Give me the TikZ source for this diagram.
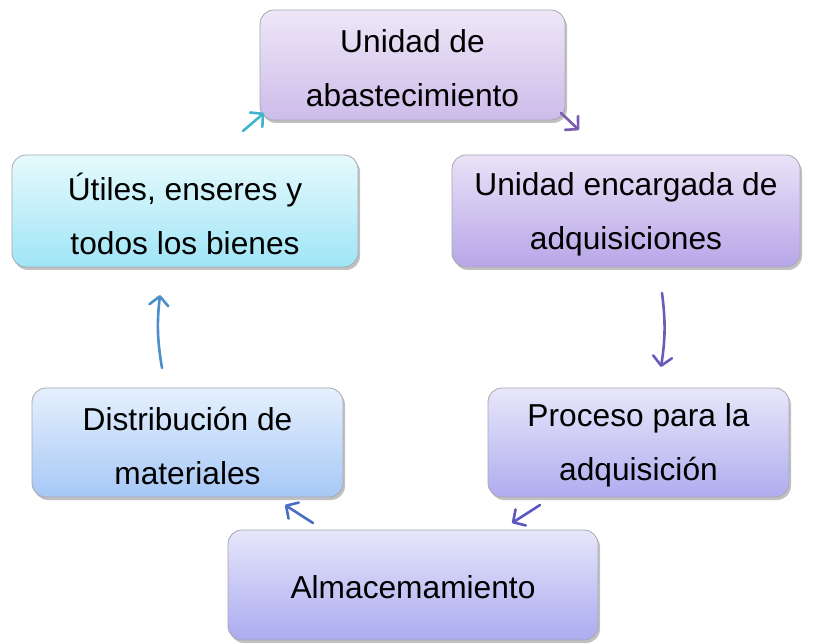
\documentclass[tikz,border=0pt]{standalone}
\usepackage{fontspec}
\setmainfont{Liberation Sans}
\usetikzlibrary{arrows.meta,shadows}
\definecolor{bordgray}{HTML}{A8A8B0}
\definecolor{topA}{HTML}{EEE7F7}\definecolor{topB}{HTML}{CDBCEA}
\definecolor{utA}{HTML}{E6FAFD}\definecolor{utB}{HTML}{9FE5F6}
\definecolor{encA}{HTML}{E9E2F7}\definecolor{encB}{HTML}{B7A6E8}
\definecolor{disA}{HTML}{E6F0FD}\definecolor{disB}{HTML}{A6C8F6}
\definecolor{proA}{HTML}{E8E7FA}\definecolor{proB}{HTML}{B0ACF0}
\definecolor{almA}{HTML}{E6E6FA}\definecolor{almB}{HTML}{ABABF1}
\definecolor{arCyan}{HTML}{40B4CC}
\definecolor{arPurA}{HTML}{7A5CB0}
\definecolor{arPurB}{HTML}{6B5CB8}
\definecolor{arIndA}{HTML}{5B58C2}
\definecolor{arBluA}{HTML}{4B6CC6}
\definecolor{arBluB}{HTML}{4C8FCB}
\tikzset{
  box/.style={draw=bordgray, line width=0.8pt, rounded corners=14pt,
    inner sep=0pt,
    drop shadow={shadow xshift=2pt, shadow yshift=-3pt, opacity=0.35, fill=black!70}},
  txt/.style={align=center, inner sep=0pt, font=\fontsize{31.7}{54}\selectfont},
  flow/.style={line width=2.6pt, line cap=round,
    -{Straight Barb[length=9pt,width=19pt,line width=2.6pt,round]}}
}
\begin{document}
\begin{tikzpicture}[x=1pt,y=-1pt]
\useasboundingbox (0,0) rectangle (817,644);
\node[box, top color=topA, bottom color=topB, minimum width=305pt, minimum height=110pt] (top) at (412.5,65) {};
\node[box, top color=utA, bottom color=utB, minimum width=346pt, minimum height=112pt] (uti) at (185,211) {};
\node[box, top color=encA, bottom color=encB, minimum width=348pt, minimum height=112pt] (enc) at (626,211) {};
\node[box, top color=disA, bottom color=disB, minimum width=311pt, minimum height=109pt] (dis) at (187.5,442.5) {};
\node[box, top color=proA, bottom color=proB, minimum width=301pt, minimum height=109pt] (pro) at (638.5,442.5) {};
\node[box, top color=almA, bottom color=almB, minimum width=370pt, minimum height=110pt] (alm) at (413,585) {};

\node[txt] (ttop) at ([yshift=-3pt]top.center) {Unidad de\\abastecimiento};
\node[txt] (tuti) at ([yshift=-3pt]uti.center) {Útiles, enseres y\\todos los bienes};
\node[txt] (tenc) at ([yshift=-3pt]enc.center) {Unidad encargada de\\adquisiciones};
\node[txt] (tdis) at ([yshift=-3pt]dis.center) {Distribución de\\materiales};
\node[txt] (tpro) at ([yshift=-3pt]pro.center) {Proceso para la\\adquisición};
\node[txt] (talm) at ([yshift=-2pt]alm.center) {Almacemamiento};

\coordinate (a1s) at (243,131); \coordinate (a1e) at (264,113);
\coordinate (a2s) at (561,113); \coordinate (a2e) at (579,130);
\coordinate (a3s) at (662,293); \coordinate (a3e) at (661,367);
\coordinate (a4s) at (540,505); \coordinate (a4e) at (512,523);
\coordinate (a5s) at (313,523); \coordinate (a5e) at (285,505);
\coordinate (a6s) at (162,368); \coordinate (a6e) at (160,295);

\draw[flow, arCyan] (a1s) -- (a1e);
\draw[flow, arPurA] (a2s) -- (a2e);
\draw[flow, arPurB] (a3s) to[bend left=8] (a3e);
\draw[flow, arIndA] (a4s) -- (a4e);
\draw[flow, arBluA] (a5s) -- (a5e);
\draw[flow, arBluB] (a6s) to[bend left=8] (a6e);
\end{tikzpicture}
\end{document}
